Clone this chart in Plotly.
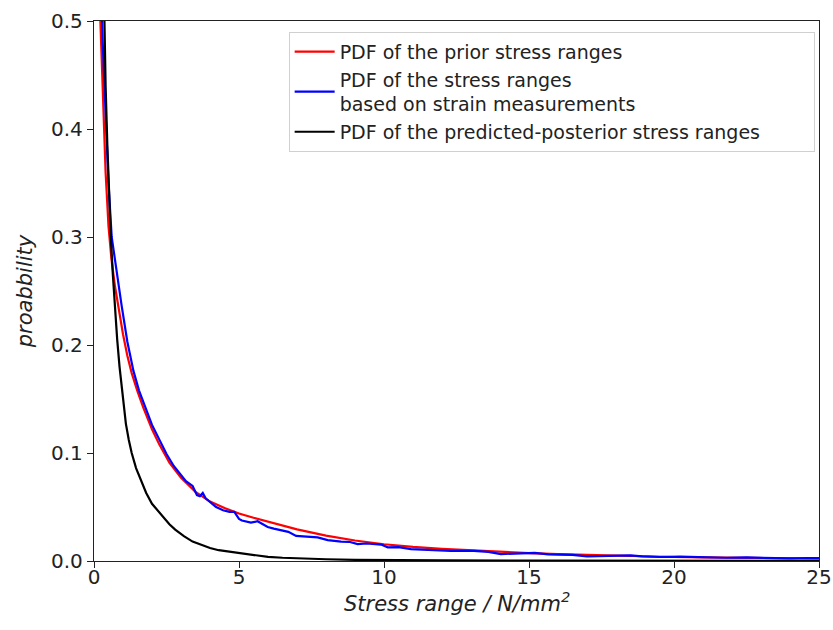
import plotly.graph_objects as go

# Prior PDF (red)
prior_x = [0.10, 0.16, 0.22, 0.30, 0.40, 0.50, 0.60, 0.72, 0.85, 1.00, 1.15, 1.30, 1.50, 1.70, 2.00,
           2.25, 2.60, 3.00, 3.50, 4.00, 4.50, 5.00, 5.50, 6.00, 6.50, 7.00, 8.00, 9.00, 10.0,
           11.0, 12.0, 13.0, 14.0, 15.0, 16.0, 17.0, 18.0, 19.0, 20.0, 21.0, 22.0, 23.0, 24.0, 25.0]
prior_y = [0.80, 0.60, 0.50, 0.43, 0.36, 0.31, 0.28, 0.255, 0.232, 0.21, 0.19, 0.174, 0.157, 0.142, 0.122,
           0.108, 0.091, 0.077, 0.064, 0.055, 0.049, 0.044, 0.040, 0.0365, 0.0325, 0.0293, 0.0235, 0.019, 0.0155,
           0.013, 0.0112, 0.0097, 0.0083, 0.0073, 0.0063, 0.0055, 0.0048, 0.0042, 0.0037, 0.0033, 0.0030, 0.0027, 0.0025, 0.0023]

# Measured PDF (blue)
meas_x = [0.12, 0.22, 0.30, 0.40, 0.50, 0.61, 0.78, 0.95, 1.15, 1.36, 1.55, 1.76, 2.00,
          2.28, 2.50, 2.75, 3.00, 3.17, 3.40, 3.55, 3.65, 3.75, 3.85, 3.98, 4.21, 4.45, 4.67, 4.84, 5.00,
          5.10, 5.41, 5.64, 5.80, 5.99, 6.20, 6.45, 6.70, 6.97, 7.30, 7.71, 8.06, 8.52, 8.80, 9.09, 9.40,
          9.90, 10.13, 10.5, 10.93, 11.3, 11.62, 12.31, 13.1, 13.6, 14.03, 14.6, 15.2, 15.66, 16.5, 17.0,
          17.8, 18.5, 18.9, 19.5, 20.2, 21.0, 21.8, 22.5, 23.2, 24.0, 24.6, 25.0]
meas_y = [0.70, 0.55, 0.48, 0.41, 0.35, 0.30, 0.266, 0.237, 0.203, 0.176, 0.158, 0.143, 0.126,
          0.111, 0.099, 0.088, 0.079, 0.074, 0.0695, 0.061, 0.060, 0.063, 0.058, 0.055, 0.050, 0.047, 0.0455, 0.0455, 0.039,
          0.0375, 0.0355, 0.0368, 0.034, 0.0315, 0.030, 0.0287, 0.027, 0.0232, 0.0225, 0.0219, 0.0194, 0.0179, 0.0178, 0.0157, 0.0162,
          0.0152, 0.0127, 0.0128, 0.0110, 0.0105, 0.0097, 0.0093, 0.0094, 0.0085, 0.0064, 0.0068, 0.0075, 0.0062, 0.0056, 0.0042,
          0.0046, 0.0052, 0.0042, 0.0037, 0.0040, 0.0033, 0.0030, 0.0033, 0.0026, 0.0024, 0.0028, 0.0026]

# Predicted-posterior PDF (black)
post_x = [0.28, 0.35, 0.40, 0.46, 0.52, 0.58, 0.65, 0.72, 0.80, 0.88, 0.99, 1.10, 1.20, 1.30, 1.45, 1.60,
          1.80, 2.00, 2.30, 2.60, 2.80, 3.10, 3.40, 3.70, 4.00, 4.30, 4.70, 5.10, 5.50, 6.00, 6.50, 7.00,
          8.00, 9.00, 10.0, 12.0, 15.0, 20.0, 25.0]
post_y = [0.62, 0.50, 0.44, 0.385, 0.34, 0.30, 0.265, 0.235, 0.205, 0.18, 0.15, 0.127, 0.112, 0.10, 0.086, 0.076,
          0.063, 0.053, 0.043, 0.034, 0.029, 0.023, 0.018, 0.0148, 0.012, 0.010, 0.0085, 0.0065, 0.0050, 0.0038, 0.0030, 0.0024,
          0.0016, 0.0011, 0.0008, 0.0005, 0.0003, 0.0001, 0.0001]

x_ticks = [0, 5, 10, 15, 20, 25]
y_ticks = [0.0, 0.1, 0.2, 0.3, 0.4, 0.5]

PAD = "\u00a0" * 8

fig = go.Figure()
fig.add_trace(go.Scatter(x=prior_x, y=prior_y, mode="lines", line=dict(color="#ff0000", width=2.2),
                         name="PDF of the prior stress ranges"))
fig.add_trace(go.Scatter(x=meas_x, y=meas_y, mode="lines", line=dict(color="#0000ff", width=2.2),
                         name="PDF of the stress ranges<br>based on strain measurements"))
fig.add_trace(go.Scatter(x=post_x, y=post_y, mode="lines", line=dict(color="#000000", width=2.2),
                         name="PDF of the predicted-posterior stress ranges" + PAD))

axis_common = dict(showgrid=False, zeroline=False, showline=True, linecolor="#222", linewidth=1.3,
                   mirror=True, ticks="outside", ticklen=6, tickcolor="#222", tickwidth=1.3,
                   automargin=False,
                   tickfont=dict(family="DejaVu Sans", size=20, color="#222"))

fig.update_xaxes(range=[0, 25], tickvals=x_ticks, ticktext=[str(v) for v in x_ticks],
                 ticklabelstandoff=-8, **axis_common)
fig.update_yaxes(range=[0, 0.5], tickvals=y_ticks, ticktext=[f"{v:.1f}" for v in y_ticks],
                 title=dict(text="<i>proabbility</i>",
                            font=dict(family="DejaVu Sans", size=21, color="#222"), standoff=12),
                 **axis_common)

fig.add_annotation(text="<i>Stress range / N/mm<sup>2</sup></i>", xref="paper", yref="paper",
                   x=0.5, y=-0.075, xanchor="center", yanchor="middle", showarrow=False,
                   font=dict(family="DejaVu Sans", size=21, color="#222"))

fig.update_layout(
    width=833, height=630,
    margin=dict(l=94, r=14, t=21, b=69),
    plot_bgcolor="white", paper_bgcolor="white",
    font=dict(family="DejaVu Sans", size=19, color="#222"),
    legend=dict(x=0.994, y=0.98, xanchor="right", yanchor="top",
                bgcolor="rgba(255,255,255,0.9)", bordercolor="#d0d0d0", borderwidth=1,
                font=dict(family="DejaVu Sans", size=19, color="#222"),
                itemwidth=40, tracegroupgap=2),
    showlegend=True,
)

fig.write_html("out.html")
